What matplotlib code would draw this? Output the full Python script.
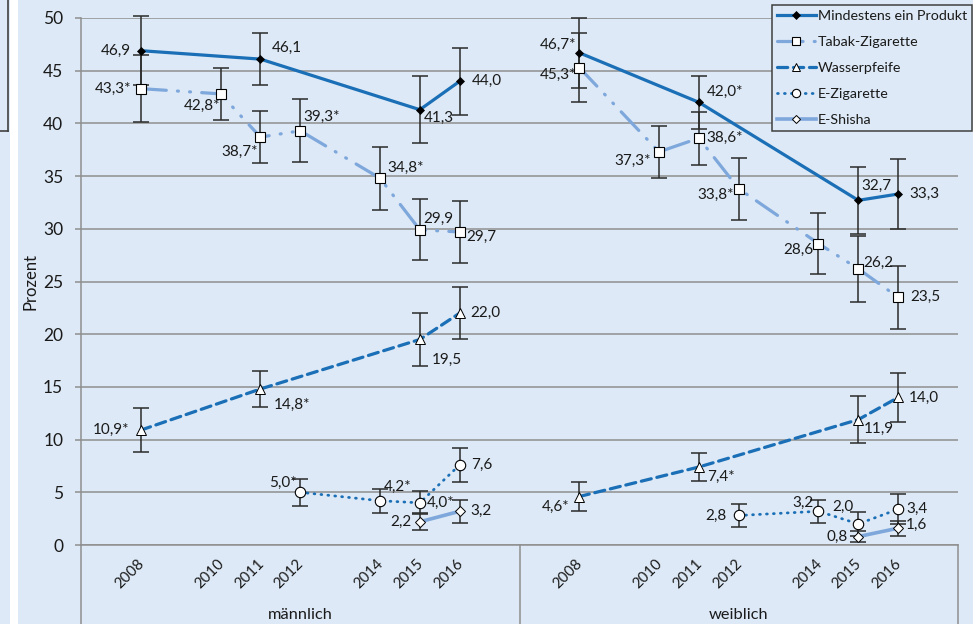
import matplotlib
matplotlib.use("Agg")
import matplotlib.pyplot as plt
from matplotlib.lines import Line2D
from matplotlib.patches import Rectangle
from matplotlib.transforms import blended_transform_factory

plt.rcParams['font.family'] = ['Lato', 'DejaVu Sans']

# ---------------- data ----------------
groups = ["männlich", "weiblich"]
year_ticks = [2008, 2010, 2011, 2012, 2014, 2015, 2016]

series_names = ["Mindestens ein Produkt", "Tabak-Zigarette", "Wasserpfeife",
                "E-Zigarette", "E-Shisha"]

# years with a survey value per series (same for both groups)
years_mind = [2008, 2011, 2015, 2016]
years_tabak = [2008, 2010, 2011, 2012, 2014, 2015, 2016]
years_wasser = [2008, 2011, 2015, 2016]
years_ezig = [2012, 2014, 2015, 2016]
years_eshisha = [2015, 2016]

# prevalence in percent: [männlich, weiblich]
mind_values = [[46.9, 46.1, 41.3, 44.0], [46.7, 42.0, 32.7, 33.3]]
tabak_values = [[43.3, 42.8, 38.7, 39.3, 34.8, 29.9, 29.7],
                [45.3, 37.3, 38.6, 33.8, 28.6, 26.2, 23.5]]
wasser_values = [[10.9, 14.8, 19.5, 22.0], [4.6, 7.4, 11.9, 14.0]]
ezig_values = [[5.0, 4.2, 4.0, 7.6], [2.8, 3.2, 2.0, 3.4]]
eshisha_values = [[2.2, 3.2], [0.8, 1.6]]

# half-width of the 95% confidence interval
mind_ci = [[3.3, 2.5, 3.2, 3.2], [3.3, 2.5, 3.2, 3.35]]
tabak_ci = [[3.2, 2.5, 2.5, 3.0, 3.0, 2.9, 2.9],
            [3.3, 2.45, 2.5, 2.95, 2.9, 3.1, 3.0]]
wasser_ci = [[2.1, 1.75, 2.5, 2.5], [1.4, 1.35, 2.2, 2.3]]
ezig_ci = [[1.3, 1.15, 1.1, 1.6], [1.1, 1.1, 1.1, 1.4]]
eshisha_ci = [[0.8, 1.1], [0.5, 0.7]]

# significant difference to 2016 (marked with *)
mind_sig = [[0, 0, 0, 0], [1, 1, 0, 0]]
tabak_sig = [[1, 1, 1, 1, 1, 0, 0], [1, 1, 1, 1, 0, 0, 0]]
wasser_sig = [[1, 1, 0, 0], [1, 1, 0, 0]]
ezig_sig = [[1, 1, 1, 0], [0, 0, 0, 0]]
eshisha_sig = [[0, 0], [0, 0]]

# ---------------- styles ----------------
BG = "#dde9f6"
DARK_BLUE = "#1a6fb6"
LIGHT_BLUE = "#7ea7dc"

styles = [
    dict(color=DARK_BLUE, lw=2.3, ls='-', marker='D', ms=4.5, mfc='black', mec='black', mew=0.5),
    dict(color=LIGHT_BLUE, lw=2.3, ls=(0, (8, 3.5, 0.3, 3.5, 0.3, 3.5)), marker='s', ms=7.5,
         mfc='white', mec='black', mew=0.8),
    dict(color=DARK_BLUE, lw=2.3, ls=(0, (3.2, 1.8)), marker='^', ms=7, mfc='white', mec='black', mew=0.7),
    dict(color=DARK_BLUE, lw=2.0, ls=(0, (0.3, 2.2)), marker='o', ms=7.5, mfc='white', mec='black', mew=0.8),
    dict(color=LIGHT_BLUE, lw=2.6, ls='-', marker='D', ms=5, mfc='white', mec='black', mew=0.7),
]

# label offsets in pixels (dx, dy, horizontal alignment) per series/group/point
label_layout = [
    [[(-10, 0, 'right'), (11, 11, 'left'), (4, -8, 'left'), (12, 0, 'left')],
     [(-3, 8, 'right'), (8, 10, 'left'), (3, 14, 'left'), (11, 0, 'left')]],
    [[(-10, 0, 'right'), (0, -12, 'right'), (-3, -15, 'right'), (3, 14, 'left'),
      (7, 10, 'left'), (3, 11, 'left'), (7, -5, 'left')],
     [(-3, -7, 'right'), (-8, -9, 'right'), (7, 0, 'left'), (-5, -6, 'right'),
      (-5, -6, 'right'), (5, 6, 'left'), (12, 0, 'left')]],
    [[(-12, 0, 'right'), (13, -16, 'left'), (12, -20, 'left'), (11, 0, 'left')],
     [(-10, -10, 'right'), (8, -10, 'left'), (5, -9, 'left'), (11, 0, 'left')]],
    [[(-4, 9, 'right'), (4, 14, 'left'), (7, 0, 'left'), (11, 0, 'left')],
     [(-12, 0, 'right'), (-5, 8, 'right'), (-5, 17, 'right'), (8, 0, 'left')]],
    [[(-8, 0, 'right'), (11, 0, 'left')],
     [(-11, 0, 'right'), (8, 3, 'left')]],
]

all_years = [years_mind, years_tabak, years_wasser, years_ezig, years_eshisha]
all_values = [mind_values, tabak_values, wasser_values, ezig_values, eshisha_values]
all_ci = [mind_ci, tabak_ci, wasser_ci, ezig_ci, eshisha_ci]
all_sig = [mind_sig, tabak_sig, wasser_sig, ezig_sig, eshisha_sig]

SLOTS = 11  # year slots per group (2007..2017)


def xpos(g, year):
    return g * SLOTS + (year - 2008) + 1.5


W, H = 973, 624
fig = plt.figure(figsize=(W / 100, H / 100), dpi=100, facecolor=BG)

# white gap and neighbouring frame on the left edge
fig.add_artist(Rectangle((10 / W, 0), 8 / W, 1, transform=fig.transFigure,
                         facecolor='white', edgecolor='none', zorder=0))
fig.add_artist(Line2D([7.5 / W, 7.5 / W], [1, 1 - 131 / H], transform=fig.transFigure,
                      color='#404040', lw=1.2))
fig.add_artist(Line2D([0, 7.5 / W], [1 - 131 / H, 1 - 131 / H], transform=fig.transFigure,
                      color='#404040', lw=1.2))

left, right = 81 / W, 958 / W
bottom, top = 1 - 545 / H, 1 - 18 / H
ax = fig.add_axes([left, bottom, right - left, top - bottom])
ax.set_facecolor(BG)
ax.set_xlim(0, 2 * SLOTS)
ax.set_ylim(0, 50)

GRID = "#8f8f8f"
ax.set_yticks(range(0, 51, 5))
ax.yaxis.grid(True, color=GRID, lw=1.1)
ax.set_axisbelow(True)
ax.tick_params(axis='y', length=4.3, width=1.1, color=GRID, pad=8.5, labelsize=12.5,
               labelcolor='#1a1a1a')
ax.set_xticks([])
for s in ['top', 'right']:
    ax.spines[s].set_visible(False)
ax.spines['left'].set_color(GRID)
ax.spines['bottom'].set_color(GRID)
ax.spines['left'].set_linewidth(1.1)
ax.spines['bottom'].set_linewidth(1.1)
ax.set_ylabel("Prozent", fontsize=12, color='#1a1a1a', labelpad=3)

# category axis below the plot
trans = blended_transform_factory(ax.transData, fig.transFigure)
for xb in [0, SLOTS, 2 * SLOTS]:
    ax.add_line(Line2D([xb, xb], [bottom, 0], transform=trans, color=GRID, lw=1.1,
                       clip_on=False))
for g, name in enumerate(groups):
    for yr in year_ticks:
        ax.annotate(str(yr), (xpos(g, yr), 0), xytext=(-11, -29), textcoords='offset pixels',
                    rotation=45, ha='center', va='center', fontsize=10.8, color='#1a1a1a',
                    annotation_clip=False)
    ax.text(g * SLOTS + SLOTS / 2, 1 - 615 / H, name, transform=trans, ha='center',
            va='center', fontsize=11.8, color='#1a1a1a')


def fmt(v, star):
    return f"{v:.1f}".replace('.', ',') + ('*' if star else '')


for si in range(len(series_names)):
    st = styles[si]
    for g in range(2):
        xs = [xpos(g, yr) for yr in all_years[si]]
        ys = all_values[si][g]
        ax.errorbar(xs, ys, yerr=all_ci[si][g], fmt='none', ecolor='#2b2b2b', elinewidth=1.1,
                    capsize=5.5, capthick=1.1, zorder=3, clip_on=False)
        ax.plot(xs, ys, color=st['color'], lw=st['lw'], ls=st['ls'], zorder=4,
                solid_capstyle='butt', dash_capstyle='round', clip_on=False)
        ax.plot(xs, ys, ls='none', marker=st['marker'], ms=st['ms'], mfc=st['mfc'],
                mec=st['mec'], mew=st['mew'], zorder=5, clip_on=False)
        for k, (x, y) in enumerate(zip(xs, ys)):
            dx, dy, ha = label_layout[si][g][k]
            ax.annotate(fmt(y, all_sig[si][g][k]), (x, y), xytext=(dx, dy),
                        textcoords='offset pixels', ha=ha, va='center', fontsize=11,
                        color='#1a1a1a', zorder=6, annotation_clip=False)

handles = [Line2D([], [], color=st['color'], lw=st['lw'], ls=st['ls'], marker=st['marker'],
                  ms=st['ms'] * 0.8, mfc=st['mfc'], mec=st['mec'], mew=st['mew'],
                  dash_capstyle='round') for st in styles]
leg = fig.legend(handles, series_names, loc='lower left',
                 bbox_to_anchor=(772 / W, 1 - 131 / H), borderaxespad=0, frameon=True,
                 fancybox=False, edgecolor='#404040', facecolor=BG, framealpha=1,
                 fontsize=10.3, handlelength=2.7, handletextpad=0.15, labelspacing=0.97,
                 borderpad=0.35)
leg.get_frame().set_linewidth(1.1)
for t in leg.get_texts():
    t.set_color('#1a1a1a')

fig.savefig("out.png", dpi=100, facecolor=BG)
